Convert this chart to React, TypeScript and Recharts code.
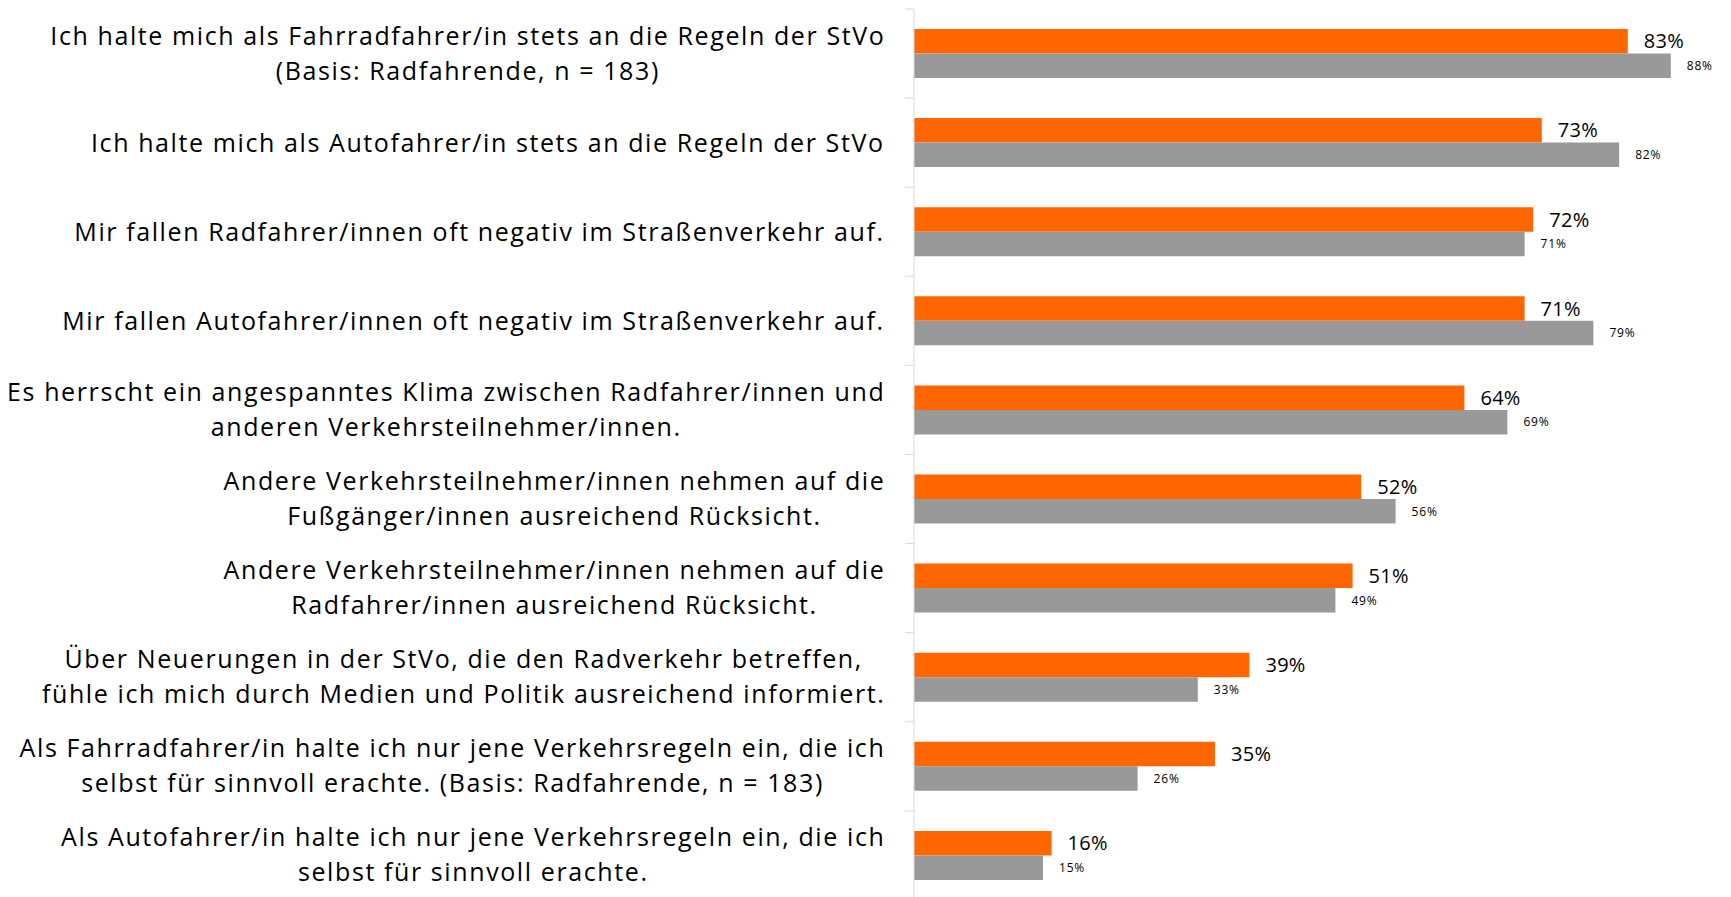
import React from "react";
import { BarChart, Bar, XAxis, YAxis, LabelList } from "recharts";

const categories = [
  ["Ich halte mich als Fahrradfahrer/in stets an die Regeln der StVo", "(Basis: Radfahrende, n = 183)"],
  ["Ich halte mich als Autofahrer/in stets an die Regeln der StVo"],
  ["Mir fallen Radfahrer/innen oft negativ im Straßenverkehr auf."],
  ["Mir fallen Autofahrer/innen oft negativ im Straßenverkehr auf."],
  ["Es herrscht ein angespanntes Klima zwischen Radfahrer/innen und", "anderen Verkehrsteilnehmer/innen."],
  ["Andere Verkehrsteilnehmer/innen nehmen auf die", "Fußgänger/innen ausreichend Rücksicht."],
  ["Andere Verkehrsteilnehmer/innen nehmen auf die", "Radfahrer/innen ausreichend Rücksicht."],
  ["Über Neuerungen in der StVo, die den Radverkehr betreffen,", "fühle ich mich durch Medien und Politik ausreichend informiert."],
  ["Als Fahrradfahrer/in halte ich nur jene Verkehrsregeln ein, die ich", "selbst für sinnvoll erachte. (Basis: Radfahrende, n = 183)"],
  ["Als Autofahrer/in halte ich nur jene Verkehrsregeln ein, die ich", "selbst für sinnvoll erachte."],
];
const orangeValues = [83, 73, 72, 71, 64, 52, 51, 39, 35, 16];
const grayValues = [88, 82, 71, 79, 69, 56, 49, 33, 26, 15];

const data = categories.map((lines, i) => ({
  name: lines.join("\n"),
  a: orangeValues[i],
  b: grayValues[i],
}));

const W = 1731;
const H = 900;
const TOP = 9;
const AXIS_X = 914;
const BAND = (H - TOP) / categories.length;
const FONT = "'Open Sans', sans-serif";
const LABEL_SIZE = 25;
const SPACING = 1.6;

let ctx: CanvasRenderingContext2D | null = null;
function textWidth(s: string) {
  if (!ctx) ctx = document.createElement("canvas").getContext("2d");
  if (!ctx) return s.length * 13;
  ctx.font = `${LABEL_SIZE}px 'Open Sans'`;
  return ctx.measureText(s).width + SPACING * s.length;
}

function CategoryTick(props: any) {
  const { y, payload, index } = props;
  const lines: string[] = String(payload.value).split("\n");
  const right = AXIS_X - 31 + SPACING;
  const maxW = Math.max(...lines.map(textWidth));
  const cx = right - maxW / 2;
  const top = y - BAND / 2;
  return (
    <g>
      <line x1={AXIS_X - 9} x2={AXIS_X} y1={top} y2={top} stroke="#d9d9d9" />
      {index === categories.length - 1 && (
        <line x1={AXIS_X - 9} x2={AXIS_X} y1={top + BAND} y2={top + BAND} stroke="#d9d9d9" />
      )}
      <text
        textAnchor={lines.length > 1 ? "middle" : "end"}
        fontFamily={FONT}
        fontSize={LABEL_SIZE}
        letterSpacing={SPACING}
        fill="#000"
      >
        {lines.length === 1 ? (
          <tspan x={right} y={y + 9}>{lines[0]}</tspan>
        ) : (
          lines.map((l, i) => (
            <tspan key={i} x={cx + SPACING / 2} y={y - 9 + i * 35}>{l}</tspan>
          ))
        )}
      </text>
    </g>
  );
}

export default function App() {
  return (
    <div style={{ position: "absolute", left: 0, top: 0, background: "#fff" }}>
      <BarChart
        width={W}
        height={H}
        data={data}
        layout="vertical"
        margin={{ top: TOP, right: 43, left: 0, bottom: 0 }}
        barGap={0}
      >
        <XAxis type="number" domain={[0, 90]} hide />
        <YAxis
          type="category"
          dataKey="name"
          width={AXIS_X}
          axisLine={{ stroke: "#d9d9d9" }}
          tickLine={false}
          tickSize={0}
          tickMargin={31}
          tick={<CategoryTick />}
          interval={0}
        />
        <Bar dataKey="a" fill="#ff6600" barSize={24.5} isAnimationActive={false}>
          <LabelList
            dataKey="a"
            position="right"
            offset={16}
            formatter={(v: any) => `${v}%`}
            style={{ fontFamily: FONT, fontSize: 20, letterSpacing: 0.3, fill: "#000" }}
          />
        </Bar>
        <Bar dataKey="b" fill="#999999" barSize={24.5} isAnimationActive={false}>
          <LabelList
            dataKey="b"
            position="right"
            offset={16}
            formatter={(v: any) => `${v}%`}
            style={{ fontFamily: FONT, fontSize: 12, letterSpacing: 0.8, fill: "#000" }}
          />
        </Bar>
      </BarChart>
    </div>
  );
}
